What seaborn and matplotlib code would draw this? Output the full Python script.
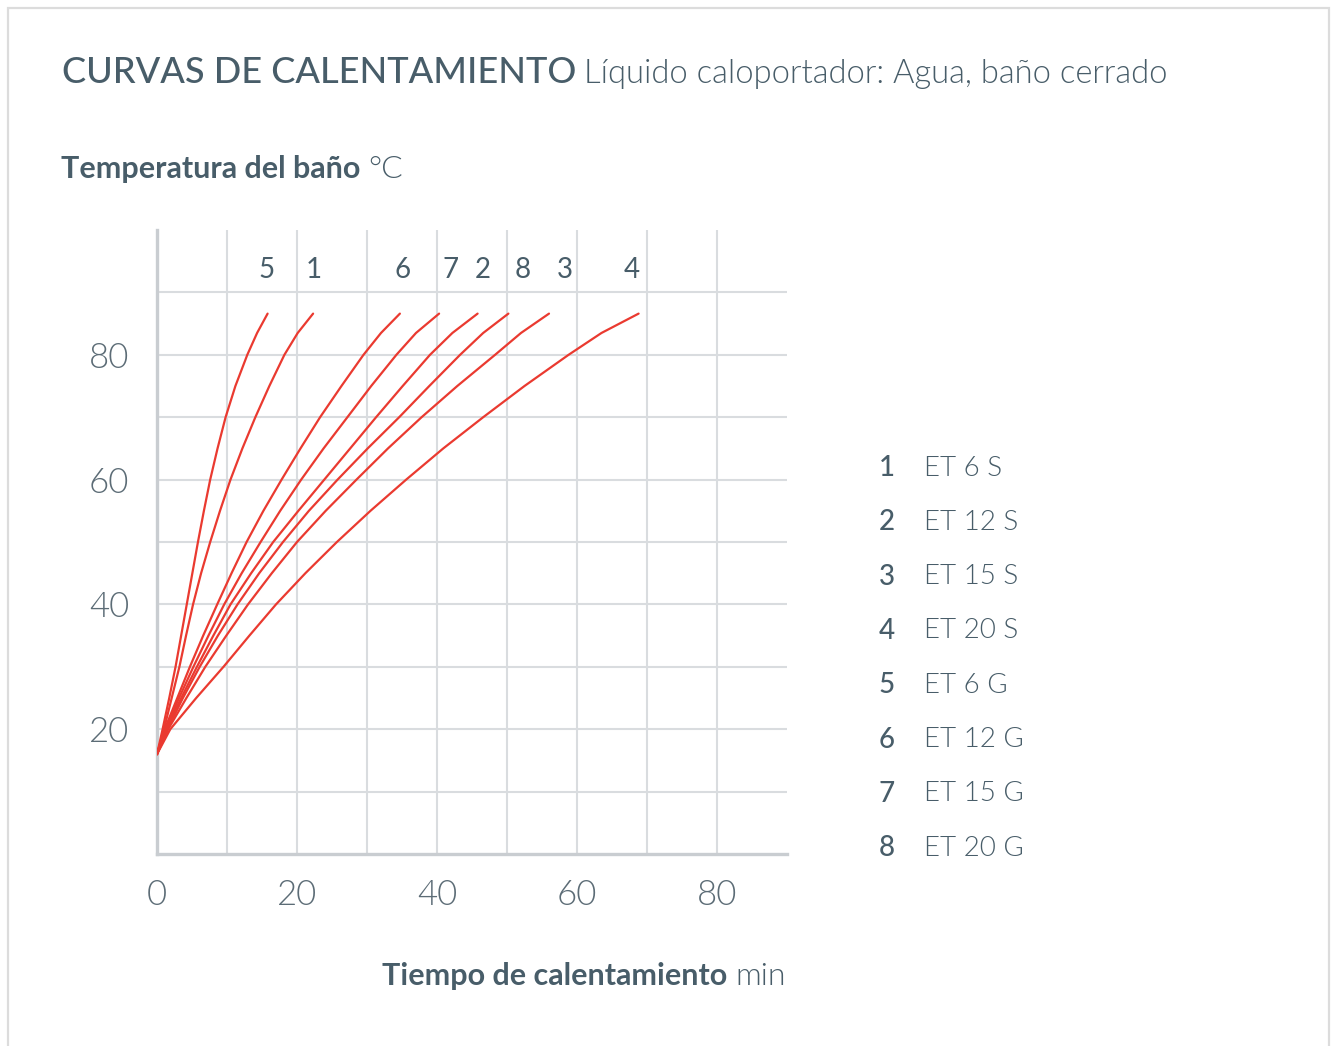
import pandas as pd
import matplotlib.pyplot as plt
import matplotlib.patches as patches
import seaborn as sns

# ============================
# Data
# ============================
temp_levels = [16, 20, 25, 30, 35, 40, 45, 50, 55, 60, 65, 70, 75, 80, 83.5, 86.6]  # °C

# heating time (min) at which each curve reaches temp_levels
t_curve_1 = [0, 1.0, 2.1, 3.2, 4.15, 5.15, 6.3, 7.6, 9.0, 10.5, 12.2, 14.05, 16.05, 18.2, 20.1, 22.3]
t_curve_2 = [0, 1.3, 3.45, 5.7, 8.05, 10.5, 13.45, 16.6, 20.2, 23.9, 27.6, 31.3, 35.1, 39.0, 42.2, 45.8]
t_curve_3 = [0, 1.6, 4.2, 6.9, 9.9, 13.0, 16.4, 20.0, 24.1, 28.5, 33.0, 37.8, 42.9, 48.3, 52.0, 56.0]
t_curve_4 = [0, 1.9, 5.6, 9.5, 13.2, 17.0, 21.2, 25.7, 30.5, 35.6, 40.9, 46.6, 52.5, 58.8, 63.5, 68.8]
t_curve_5 = [0, 0.8, 1.75, 2.65, 3.45, 4.25, 5.05, 5.85, 6.7, 7.6, 8.65, 9.8, 11.2, 12.9, 14.3, 15.8]
t_curve_6 = [0, 1.1, 2.9, 4.7, 6.6, 8.6, 10.65, 12.8, 15.2, 17.8, 20.5, 23.3, 26.35, 29.5, 32.0, 34.7]
t_curve_7 = [0, 1.2, 3.15, 5.2, 7.35, 9.6, 12.1, 14.8, 17.6, 20.6, 23.8, 27.2, 30.6, 34.2, 37.0, 40.3]
t_curve_8 = [0, 1.5, 3.7, 6.1, 8.7, 11.5, 14.6, 18.0, 21.7, 25.8, 30.1, 34.6, 38.9, 43.3, 46.6, 50.2]

curve_ids = ["1", "2", "3", "4", "5", "6", "7", "8"]
curve_times = [t_curve_1, t_curve_2, t_curve_3, t_curve_4,
               t_curve_5, t_curve_6, t_curve_7, t_curve_8]
model_names = ["ET 6 S", "ET 12 S", "ET 15 S", "ET 20 S",
               "ET 6 G", "ET 12 G", "ET 15 G", "ET 20 G"]

x_ticks = [0, 20, 40, 60, 80]
y_ticks = [20, 40, 60, 80]

# small sideways nudges for the number labels above the curves (layout only)
label_nudge = {"1": 0.1, "2": 0.8, "3": 2.2, "4": -1.0,
               "5": -0.2, "6": 0.4, "7": 1.6, "8": 2.0}

rows = []
for cid, times in zip(curve_ids, curve_times):
    for t, temp in zip(times, temp_levels):
        rows.append({"curva": cid, "tiempo": t, "temp": temp})
df = pd.DataFrame(rows)

# ============================
# Style
# ============================
sns.set_style("white")
plt.rcParams["font.family"] = ["Lato", "DejaVu Sans"]

DARK = "#485d69"
GREY_TXT = "#5c6c76"
RED = "#ea3a30"
GRID = "#d9dcdf"
SPINE = "#c9cdd1"
LIGHT = 300

W, H = 1336, 1046
fig = plt.figure(figsize=(W / 100, H / 100), dpi=100)

def fx(px):
    return px / W

def fy(py):
    return 1 - py / H

# frame around the whole card
fig.patches.append(patches.Rectangle((fx(8), -0.02), fx(1329) - fx(8), fy(8) + 0.02,
                                     transform=fig.transFigure, fill=False,
                                     edgecolor="#dcdcdc", linewidth=1.6))

ax = fig.add_axes([fx(157), fy(854), fx(787) - fx(157), fy(230) - fy(854)])

# grid: vertical lines full height, horizontal lines up to 90
for xv in range(10, 90, 10):
    ax.axvline(xv, color=GRID, lw=1.5, zorder=0)
for yv in range(10, 100, 10):
    ax.axhline(yv, color=GRID, lw=1.5, zorder=0)

palette = {cid: RED for cid in curve_ids}
sns.lineplot(data=df, x="tiempo", y="temp", hue="curva", palette=palette,
             estimator=None, sort=False, legend=False, lw=1.6, ax=ax, zorder=3)

# number labels above each curve end
for cid, times in zip(curve_ids, curve_times):
    ax.text(times[-1] + label_nudge[cid], 93.6, cid, ha="center", va="center",
            fontsize=20, color=DARK)

ax.set_xlim(0, 90)
ax.set_ylim(0, 100)
ax.set_xticks(x_ticks)
ax.set_yticks(y_ticks)
ax.set_xticklabels([str(v) for v in x_ticks], fontsize=25, color=GREY_TXT,
                   fontweight=LIGHT)
ax.set_yticklabels([str(v) for v in y_ticks], fontsize=25, color=GREY_TXT,
                   fontweight=LIGHT)
ax.tick_params(axis="x", length=0, pad=18)
ax.tick_params(axis="y", length=0, pad=20)
ax.set_xlabel("")
ax.set_ylabel("")
for side in ["top", "right"]:
    ax.spines[side].set_visible(False)
for side in ["left", "bottom"]:
    ax.spines[side].set_color(SPINE)
    ax.spines[side].set_linewidth(2.4)

# ============================
# Titles (two weights on one line)
# ============================
fig.canvas.draw()
renderer = fig.canvas.get_renderer()

def two_part(x_px, y_px, bold_txt, light_txt, size, bold_w, align="left", light_size=None):
    light_size = light_size or size
    if align == "left":
        t1 = fig.text(fx(x_px), fy(y_px), bold_txt, fontsize=size, color=DARK,
                      fontweight=bold_w, va="baseline", ha="left")
        bb = t1.get_window_extent(renderer)
        fig.text(bb.x1 / W + 0.006, fy(y_px), light_txt, fontsize=light_size, color=DARK,
                 fontweight=LIGHT, va="baseline", ha="left")
    else:
        t2 = fig.text(fx(x_px), fy(y_px), light_txt, fontsize=light_size, color=DARK,
                      fontweight=LIGHT, va="baseline", ha="right")
        bb = t2.get_window_extent(renderer)
        fig.text(bb.x0 / W - 0.006, fy(y_px), bold_txt, fontsize=size, color=DARK,
                 fontweight=bold_w, va="baseline", ha="right")

two_part(62, 83, "CURVAS DE CALENTAMIENTO", "Líquido caloportador: Agua, baño cerrado",
         26, "medium", light_size=23.6)
two_part(61, 178, "Temperatura del baño", "°C", 22, "bold", light_size=23)
two_part(786, 985, "Tiempo de calentamiento", "min", 22, "bold", align="right",
         light_size=23)

# ============================
# Legend (number + model)
# ============================
for i, (num, name) in enumerate(zip(curve_ids, model_names)):
    y_px = 468 + i * 54.3
    fig.text(fx(887), fy(y_px), num, fontsize=20, color=DARK, ha="center",
             va="center", fontweight="medium")
    fig.text(fx(924), fy(y_px), name, fontsize=20, color=DARK, ha="left",
             va="center", fontweight=LIGHT)

fig.savefig("out.png", dpi=100, facecolor="white")
